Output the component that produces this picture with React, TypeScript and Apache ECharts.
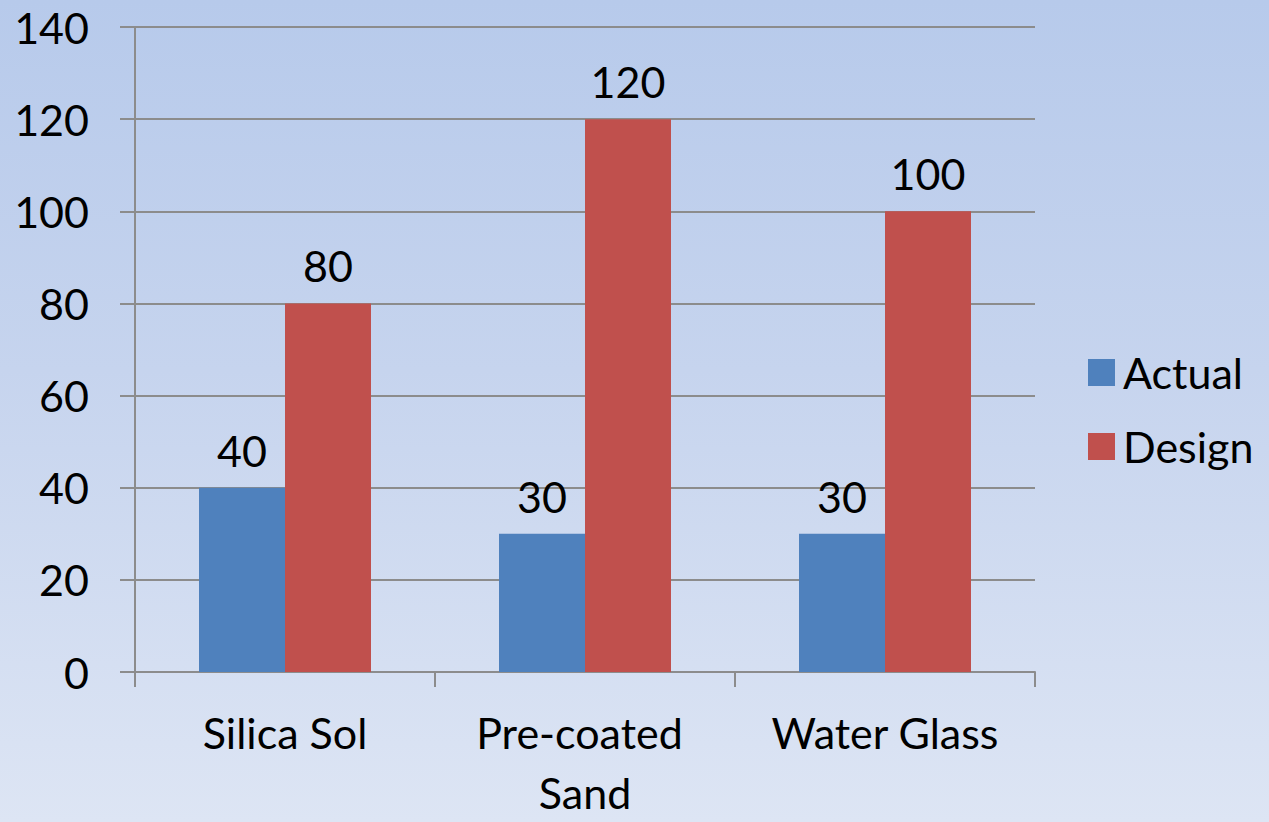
import React, { useEffect, useRef } from "react";
import * as echarts from "echarts";

const categories = ["Silica Sol", "Pre-coated Sand", "Water Glass"];
const actualValues = [40, 30, 30];
const designValues = [80, 120, 100];
const seriesNames = ["Actual", "Design"];

const FONT = "Lato";
const FS = 43;

export default function App() {
  const ref = useRef<HTMLDivElement>(null);
  useEffect(() => {
    document.body.style.margin = "0";
    const chart = echarts.init(ref.current!, null, { renderer: "svg" });
    chart.setOption({
      animation: false,
      backgroundColor: "transparent",
      textStyle: { fontFamily: FONT },
      grid: { left: 135, right: 234, top: 27, bottom: 146, containLabel: false },
      legend: {
        orient: "vertical",
        left: 1083,
        top: 346,
        itemWidth: 27,
        itemHeight: 27,
        itemGap: 31,
        icon: "rect",
        data: seriesNames,
        textStyle: { fontFamily: FONT, fontSize: FS, color: "#000", padding: [0, 0, 0, 3], lineHeight: 42 },
      },
      xAxis: {
        type: "category",
        data: categories,
        axisLine: { lineStyle: { color: "#8c8c8c", width: 2 } },
        axisTick: { show: true, length: 15, lineStyle: { color: "#8c8c8c", width: 2 } },
        axisLabel: {
          color: "#000",
          fontFamily: FONT,
          fontSize: FS,
          margin: 30,
          lineHeight: 60,
          width: 250,
          overflow: "break",
          interval: 0,
        },
      },
      yAxis: {
        type: "value",
        min: 0,
        max: 140,
        interval: 20,
        axisLine: { show: true, lineStyle: { color: "#8c8c8c", width: 2 } },
        axisTick: { show: true, length: 15, lineStyle: { color: "#8c8c8c", width: 2 } },
        splitLine: { lineStyle: { color: "#8c8c8c", width: 2 } },
        axisLabel: { color: "#000", fontFamily: FONT, fontSize: FS, margin: 46 },
      },
      series: [
        {
          name: seriesNames[0],
          type: "bar",
          data: actualValues,
          barWidth: 86,
          barGap: "0%",
          itemStyle: { color: "#4f81bd" },
          label: { show: true, position: "top", distance: 16, color: "#000", fontFamily: FONT, fontSize: FS },
        },
        {
          name: seriesNames[1],
          type: "bar",
          data: designValues,
          barWidth: 86,
          barGap: "0%",
          itemStyle: { color: "#c0504d" },
          label: { show: true, position: "top", distance: 16, color: "#000", fontFamily: FONT, fontSize: FS },
        },
      ],
    });
    return () => chart.dispose();
  }, []);
  return (
    <div
      style={{
        position: "fixed",
        left: 0,
        top: 0,
        width: 1269,
        height: 822,
        background: "linear-gradient(to bottom, #b7caeb 0%, #c6d4ee 45%, #dde5f4 100%)",
      }}
    >
      <div ref={ref} style={{ width: 1269, height: 822 }} />
    </div>
  );
}
